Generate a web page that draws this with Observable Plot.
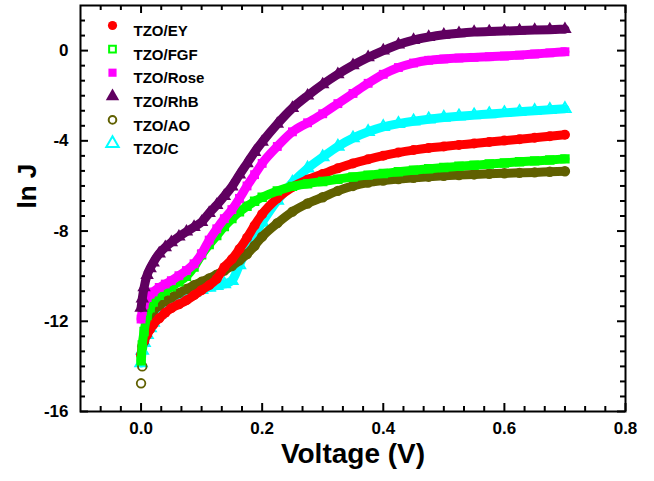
<!DOCTYPE html>
<html><head><meta charset="utf-8">
<script src="https://cdn.jsdelivr.net/npm/d3@7"></script>
<script src="https://cdn.jsdelivr.net/npm/@observablehq/plot@0.6"></script>
<style>body{margin:0;background:#fff;} #chart{width:654px;height:481px;}</style>
</head><body><div id="chart"></div>
<script>
// ---- data ----
const voltage = [0, 0.002, 0.005, 0.01, 0.015, 0.02, 0.03, 0.04, 0.05, 0.0625, 0.075, 0.0875, 0.1, 0.1125, 0.125, 0.1375, 0.15, 0.1625, 0.175, 0.1875, 0.2, 0.225, 0.25, 0.275, 0.3, 0.325, 0.35, 0.375, 0.4, 0.425, 0.45, 0.475, 0.5, 0.525, 0.55, 0.575, 0.6, 0.625, 0.65, 0.675, 0.7];

const lnJ_EY = [-13.5, -13.1, -12.85, -12.6, -12.35, -12.15, -11.87, -11.62, -11.42, -11.25, -11.07, -10.85, -10.62, -10.4, -10.12, -9.6, -9.25, -8.8, -8.3, -7.75, -7.25, -6.55, -6.05, -5.72, -5.47, -5.22, -5.0, -4.82, -4.66, -4.52, -4.41, -4.32, -4.25, -4.18, -4.12, -4.05, -3.99, -3.93, -3.86, -3.8, -3.73];
const lnJ_FGF = [-13.75, -13.05, -12.45, -11.75, -11.4, -11.15, -10.85, -10.65, -10.47, -10.25, -10.0, -9.6, -9.05, -8.6, -8.2, -7.8, -7.45, -7.15, -6.9, -6.68, -6.5, -6.22, -6.02, -5.9, -5.8, -5.7, -5.6, -5.52, -5.45, -5.37, -5.3, -5.24, -5.18, -5.13, -5.08, -5.03, -4.98, -4.93, -4.89, -4.85, -4.8];
const lnJ_Rose = [-11.9, -11.55, -11.25, -10.95, -10.8, -10.7, -10.5, -10.35, -10.2, -9.98, -9.75, -9.45, -9.0, -8.4, -7.9, -7.45, -7.05, -6.55, -6.0, -5.5, -5.0, -4.25, -3.6, -3.2, -2.8, -2.35, -1.9, -1.45, -1.05, -0.75, -0.55, -0.43, -0.37, -0.33, -0.3, -0.27, -0.24, -0.2, -0.15, -0.1, -0.05];
const lnJ_RhB = [-11.4, -11.0, -10.5, -9.95, -9.65, -9.4, -9.0, -8.72, -8.5, -8.25, -8.03, -7.82, -7.6, -7.2, -6.85, -6.45, -6.03, -5.5, -5.0, -4.5, -4.05, -3.25, -2.55, -2.0, -1.5, -1.05, -0.65, -0.3, 0.0, 0.27, 0.47, 0.6, 0.7, 0.77, 0.82, 0.85, 0.87, 0.89, 0.91, 0.93, 0.95];
const lnJ_AO = [-14.75, -14.0, -12.9, -12.2, -11.8, -11.55, -11.3, -11.1, -10.95, -10.75, -10.57, -10.4, -10.25, -10.1, -9.93, -9.75, -9.55, -9.3, -9.02, -8.65, -8.25, -7.65, -7.14, -6.78, -6.5, -6.22, -6.0, -5.85, -5.76, -5.69, -5.64, -5.59, -5.55, -5.52, -5.49, -5.46, -5.44, -5.42, -5.4, -5.37, -5.35];
const lnJ_C = [-13.85, -13.3, -12.95, -12.6, -12.3, -12.05, -11.7, -11.42, -11.2, -11.0, -10.85, -10.72, -10.6, -10.5, -10.42, -10.35, -10.2, -9.5, -8.75, -8.15, -7.62, -6.65, -5.85, -5.22, -4.72, -4.25, -3.88, -3.6, -3.38, -3.24, -3.13, -3.04, -2.97, -2.91, -2.86, -2.81, -2.76, -2.71, -2.67, -2.62, -2.58];

const seriesNames = ["TZO/EY", "TZO/FGF", "TZO/Rose", "TZO/RhB", "TZO/AO", "TZO/C"];
const xTicks = [0, 0.2, 0.4, 0.6, 0.8];
const yTicks = [-16, -12, -8, -4, 0];
const xTitle = "Voltage (V)";
const yTitle = "ln J";

// ---- styles ----
const styles = {
  "TZO/EY":   {values: lnJ_EY,   color: "#ff0000", symbol: "circle",   filled: true,  lineFrom: 0},
  "TZO/FGF":  {values: lnJ_FGF,  color: "#00ff00", symbol: "square",   filled: false, lineFrom: 0},
  "TZO/Rose": {values: lnJ_Rose, color: "#ff00ff", symbol: "square",   filled: true,  lineFrom: 0},
  "TZO/RhB":  {values: lnJ_RhB,  color: "#600060", symbol: "triangle", filled: true,  lineFrom: 0},
  "TZO/AO":   {values: lnJ_AO,   color: "#606000", symbol: "circle",   filled: false, lineFrom: 2},
  "TZO/C":    {values: lnJ_C,    color: "#00ffff", symbol: "triangle", filled: false, lineFrom: 0}
};
const drawOrder = ["TZO/C", "TZO/AO", "TZO/EY", "TZO/FGF", "TZO/Rose", "TZO/RhB"];

const W = 654, H = 481, mL = 80, mR = 29, mT = 5, mB = 70;
const frameH = H - mT - mB, frameW = W - mL - mR;
const font = "'Liberation Sans', Arial, Helvetica, sans-serif";

const xDomain = [-0.1, 0.8], yDomain = [-16, 2];
const xMinor = d3.range(-2, 24).filter(i => i % 6 !== 0).map(i => i / 30);
const yMinor = d3.range(-23, 3).filter(i => i % 6 !== 0).map(i => i * 2 / 3);
const majLen = 8, minLen = 5;

const marks = [];
for (const name of drawOrder) {
  const s = styles[name];
  const rows = voltage.map((v, i) => ({v, j: s.values[i]}));
  marks.push(Plot.line(rows.slice(s.lineFrom), {x: "v", y: "j", stroke: s.color, strokeWidth: 9, curve: "monotone-x", strokeLinecap: "round"}));
  if (s.filled) {
    marks.push(Plot.dot(rows, {x: "v", y: "j", symbol: () => s.symbol, fill: s.color, r: 5, stroke: "none"}));
  } else {
    marks.push(Plot.dot(rows, {x: "v", y: "j", symbol: () => s.symbol, stroke: s.color, fill: "none", r: 4.3, strokeWidth: 1.8}));
  }
}

// ticks (inward, all four sides)
const tk = (data, len, side) => {
  const o = {strokeWidth: 2, stroke: "black"};
  if (side === "bottom") return Plot.tickX(data, {x: d => d, insetTop: frameH - len, ...o});
  if (side === "top") return Plot.tickX(data, {x: d => d, insetBottom: frameH - len, ...o});
  if (side === "left") return Plot.tickY(data, {y: d => d, insetRight: frameW - len, ...o});
  return Plot.tickY(data, {y: d => d, insetLeft: frameW - len, ...o});
};
for (const side of ["bottom", "top", "left", "right"]) {
  const isX = side === "bottom" || side === "top";
  marks.push(tk(isX ? xTicks : yTicks, majLen, side));
  marks.push(tk(isX ? xMinor : yMinor, minLen, side));
}

marks.push(Plot.frame({stroke: "black", strokeWidth: 2}));

marks.push(Plot.axisX(xTicks, {tickSize: 0, tickPadding: 10, tickFormat: d => d.toFixed(1), fontSize: 17, fontWeight: "bold", label: null}));
marks.push(Plot.axisY(yTicks, {tickSize: 0, tickPadding: 12, tickFormat: d => String(d), fontSize: 17, fontWeight: "bold", label: null}));

marks.push(Plot.text([xTitle], {frameAnchor: "bottom", dy: 51, fontSize: 28, fontWeight: "bold", fill: "black"}));
marks.push(Plot.text([yTitle], {frameAnchor: "left", dx: -53, rotate: -90, fontSize: 26, fontWeight: "bold", fill: "black"}));

// legend
seriesNames.forEach((name, i) => {
  const s = styles[name];
  const dy = 20 + i * 23.6;
  if (s.filled) {
    marks.push(Plot.dot([0], {frameAnchor: "top-left", dx: 32, dy, symbol: () => s.symbol, fill: s.color, r: s.symbol === "triangle" ? 5 : 4.6}));
  } else {
    marks.push(Plot.dot([0], {frameAnchor: "top-left", dx: 32, dy, symbol: () => s.symbol, stroke: s.color, fill: "none", strokeWidth: 2, r: s.symbol === "triangle" ? 4.6 : 3.8}));
  }
  marks.push(Plot.text([name], {frameAnchor: "top-left", dx: 53, dy, textAnchor: "start", fontSize: 15, fontWeight: "bold", fill: "black"}));
});

const chart = Plot.plot({
  width: W, height: H,
  marginLeft: mL, marginRight: mR, marginTop: mT, marginBottom: mB,
  x: {domain: xDomain, axis: null},
  y: {domain: yDomain, axis: null},
  symbol: {type: "identity"},
  style: {fontFamily: font, background: "white", color: "black"},
  marks
});
document.getElementById("chart").append(chart);
</script>
</body></html>
